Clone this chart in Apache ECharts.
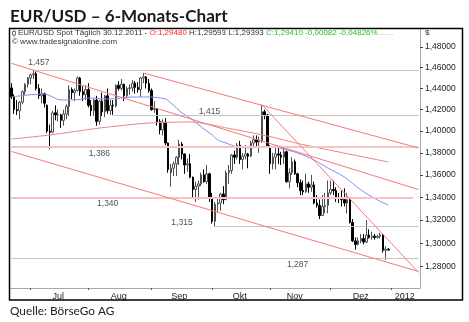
<!DOCTYPE html>
<html><head><meta charset="utf-8">
<script src="https://cdn.jsdelivr.net/npm/echarts@6/dist/echarts.min.js"></script>
<style>html,body{margin:0;padding:0;background:#fff;}#c{width:469px;height:322px;}</style>
</head><body><div id="c"></div>
<script>
// ---------- DATA ----------
const tradingDays = {
  '2011-06': [22,23,24,27,28,29,30],
  '2011-07': [1,4,5,6,7,8,11,12,13,14,15,18,19,20,21,22,25,26,27,28,29],
  '2011-08': [1,2,3,4,5,8,9,10,11,12,15,16,17,18,19,22,23,24,25,26,29,30,31],
  '2011-09': [1,2,5,6,7,8,9,12,13,14,15,16,19,20,21,22,23,26,27,28,29,30],
  '2011-10': [3,4,5,6,7,10,11,12,13,14,17,18,19,20,21,24,25,26,27,28,31],
  '2011-11': [1,2,3,4,7,8,9,10,11,14,15,16,17,18,21,22,23,24,25,28,29,30],
  '2011-12': [1,2,5,6,7,8,9,12,13,14,15,16,19,20,21,22,23,26,27,28,29,30],
  '2012-01': [2,3,4,5,6,9,10,11,12,13,16]
};
// [open, high, low, close]
const ohlcJun = [
[1.4405,1.4450,1.4300,1.4320],[1.4320,1.4345,1.4160,1.4200],[1.4200,1.4290,1.4150,1.4190],
[1.4190,1.4280,1.4110,1.4270],[1.4270,1.4380,1.4250,1.4370],[1.4370,1.4450,1.4340,1.4440],
[1.4440,1.4510,1.4410,1.4500]];
const ohlcJul = [
[1.4500,1.4540,1.4440,1.4530],[1.4530,1.4578,1.4490,1.4540],[1.4540,1.4560,1.4380,1.4400],
[1.4400,1.4440,1.4300,1.4330],[1.4330,1.4400,1.4260,1.4350],[1.4350,1.4360,1.4220,1.4260],
[1.4240,1.4250,1.3980,1.4000],[1.4000,1.4060,1.3837,1.3990],[1.3990,1.4190,1.3980,1.4170],
[1.4170,1.4240,1.4100,1.4150],[1.4150,1.4200,1.4090,1.4150],[1.4150,1.4160,1.4030,1.4100],
[1.4100,1.4200,1.4050,1.4160],[1.4160,1.4250,1.4110,1.4230],[1.4230,1.4430,1.4140,1.4390],
[1.4390,1.4410,1.4300,1.4360],[1.4360,1.4400,1.4280,1.4380],[1.4380,1.4515,1.4370,1.4500],
[1.4500,1.4510,1.4330,1.4370],[1.4370,1.4420,1.4280,1.4340],[1.4340,1.4430,1.4290,1.4390]];
const ohlcAug = [
[1.4390,1.4450,1.4220,1.4240],[1.4240,1.4290,1.4140,1.4190],[1.4190,1.4300,1.4140,1.4290],
[1.4290,1.4330,1.4050,1.4090],[1.4090,1.4290,1.4060,1.4280],[1.4280,1.4360,1.4140,1.4180],
[1.4180,1.4340,1.4130,1.4330],[1.4330,1.4400,1.4160,1.4190],[1.4190,1.4290,1.4150,1.4240],
[1.4240,1.4290,1.4150,1.4235],[1.4235,1.4440,1.4220,1.4430],[1.4430,1.4470,1.4380,1.4400],
[1.4400,1.4490,1.4380,1.4440],[1.4440,1.4445,1.4280,1.4330],[1.4330,1.4420,1.4310,1.4400],
[1.4400,1.4440,1.4340,1.4405],[1.4405,1.4480,1.4370,1.4450],[1.4450,1.4470,1.4350,1.4410],
[1.4410,1.4460,1.4360,1.4390],[1.4390,1.4510,1.4320,1.4500],[1.4500,1.4548,1.4450,1.4510],
[1.4510,1.4520,1.4400,1.4450],[1.4450,1.4490,1.4360,1.4380]];
const ohlcSep = [
[1.4380,1.4400,1.4190,1.4200],[1.4200,1.4280,1.4170,1.4210],[1.4210,1.4215,1.4050,1.4090],
[1.4090,1.4110,1.3970,1.4010],[1.4010,1.4110,1.3960,1.4080],[1.4080,1.4120,1.3870,1.3890],
[1.3890,1.3895,1.3620,1.3650],[1.3620,1.3700,1.3495,1.3660],[1.3660,1.3720,1.3590,1.3700],
[1.3700,1.3770,1.3590,1.3760],[1.3760,1.3920,1.3690,1.3880],[1.3880,1.3900,1.3740,1.3790],
[1.3790,1.3795,1.3610,1.3690],[1.3690,1.3750,1.3630,1.3700],[1.3700,1.3790,1.3570,1.3580],
[1.3580,1.3585,1.3390,1.3470],[1.3470,1.3540,1.3360,1.3500],[1.3500,1.3550,1.3380,1.3520],
[1.3520,1.3620,1.3500,1.3600],[1.3600,1.3650,1.3530,1.3540],[1.3540,1.3690,1.3520,1.3610],
[1.3610,1.3620,1.3360,1.3390]];
const ohlcOct = [
[1.3390,1.3440,1.3170,1.3190],[1.3190,1.3360,1.3145,1.3340],[1.3340,1.3400,1.3270,1.3350],
[1.3350,1.3440,1.3280,1.3430],[1.3430,1.3500,1.3340,1.3380],[1.3380,1.3640,1.3375,1.3620],
[1.3620,1.3690,1.3520,1.3640],[1.3640,1.3790,1.3610,1.3780],[1.3780,1.3820,1.3700,1.3760],
[1.3760,1.3890,1.3740,1.3870],[1.3870,1.3910,1.3700,1.3740],[1.3740,1.3800,1.3650,1.3770],
[1.3770,1.3870,1.3740,1.3790],[1.3790,1.3800,1.3660,1.3770],[1.3770,1.3910,1.3760,1.3890],
[1.3890,1.3960,1.3860,1.3920],[1.3920,1.3960,1.3860,1.3900],[1.3900,1.3950,1.3800,1.3910],
[1.3910,1.4248,1.3890,1.4180],[1.4180,1.4200,1.4110,1.4150],[1.4150,1.4160,1.3850,1.3860]];
const ohlcNov = [
[1.3860,1.3870,1.3610,1.3700],[1.3700,1.3800,1.3650,1.3760],[1.3760,1.3870,1.3650,1.3790],
[1.3790,1.3850,1.3700,1.3780],[1.3780,1.3810,1.3690,1.3760],[1.3760,1.3850,1.3700,1.3810],
[1.3810,1.3820,1.3530,1.3540],[1.3540,1.3660,1.3480,1.3620],[1.3620,1.3760,1.3600,1.3720],
[1.3720,1.3740,1.3600,1.3610],[1.3610,1.3620,1.3490,1.3530],[1.3530,1.3560,1.3420,1.3460],
[1.3460,1.3550,1.3420,1.3450],[1.3450,1.3610,1.3440,1.3520],[1.3520,1.3540,1.3440,1.3490],
[1.3490,1.3600,1.3450,1.3510],[1.3510,1.3540,1.3340,1.3350],[1.3350,1.3420,1.3310,1.3330],
[1.3330,1.3380,1.3210,1.3240],[1.3240,1.3420,1.3240,1.3320],[1.3320,1.3440,1.3260,1.3330],
[1.3330,1.3550,1.3260,1.3440]];
const ohlcDec = [
[1.3440,1.3550,1.3420,1.3470],[1.3470,1.3550,1.3420,1.3460],[1.3460,1.3490,1.3360,1.3400],
[1.3400,1.3440,1.3350,1.3390],[1.3390,1.3460,1.3320,1.3380],[1.3380,1.3480,1.3320,1.3350],
[1.3350,1.3440,1.3260,1.3380],[1.3380,1.3390,1.3170,1.3180],[1.3180,1.3210,1.3010,1.3020],
[1.3020,1.3050,1.2945,1.2990],[1.2990,1.3050,1.2980,1.3020],[1.3020,1.3080,1.3000,1.3040],
[1.3040,1.3080,1.2990,1.3010],[1.3010,1.3200,1.3000,1.3070],[1.3070,1.3120,1.3040,1.3050],
[1.3050,1.3100,1.3030,1.3060],[1.3060,1.3080,1.3030,1.3050],[1.3050,1.3070,1.3040,1.3060],
[1.3060,1.3090,1.3040,1.3070],[1.3070,1.3080,1.2920,1.2940],[1.2940,1.2975,1.2858,1.2950],
[1.29480,1.29593,1.29393,1.29410]];

// moving averages: [date, value]
const maBlue = [['2011-06-22',1.4319],['2011-06-30',1.4338],['2011-07-08',1.4347],['2011-07-18',1.4291],
['2011-07-25',1.4291],['2011-08-01',1.4310],['2011-08-10',1.4300],['2011-08-23',1.4319],['2011-08-31',1.4319],
['2011-09-08',1.4300],['2011-09-12',1.4262],['2011-09-14',1.4215],['2011-09-16',1.4169],['2011-09-21',1.4122],
['2011-09-27',1.4038],['2011-10-03',1.3964],['2011-10-05',1.3918],['2011-10-10',1.3890],['2011-10-14',1.3854],
['2011-10-21',1.3845],['2011-10-28',1.3854],['2011-11-04',1.3845],['2011-11-15',1.3799],['2011-11-23',1.3735],
['2011-11-30',1.3663],['2011-12-08',1.3582],['2011-12-16',1.3466],['2011-12-26',1.3377],['2011-12-30',1.3333]];
const maRed = [['2011-06-22',1.3927],['2011-07-12',1.3964],['2011-08-05',1.4028],['2011-08-31',1.4075],
['2011-09-21',1.4084],['2011-10-11',1.4025],['2011-10-31',1.3955],['2011-11-16',1.3881],['2011-12-06',1.3808],
['2011-12-30',1.3717]];

// trend lines: [[date, value], [date, value]]
const trendLines = [
  [['2011-06-22',1.4641],['2012-01-16',1.3469]],
  [['2011-06-22',1.3813],['2012-01-16',1.2759]],
  [['2011-08-29',1.4548],['2012-01-16',1.3844]],
  [['2011-10-27',1.4248],['2012-01-16',1.2751]]
];
// horizontal levels
const levelValues = [1.457, 1.415, 1.386, 1.340, 1.315, 1.287];
const levelFrom   = ['2011-07-04','2011-08-12','2011-06-22','2011-06-22','2011-10-04','2011-06-22'];
const levelTo     = ['2012-01-16','2012-01-16','2012-01-16','2012-01-12','2012-01-16','2012-01-16'];
const levelKind   = ['gray','gray','pink','pink','gray','gray'];
const levelLabelAt = ['2011-07-06','2011-09-30','2011-08-05','2011-08-10','2011-09-16','2011-11-15'];

const yTicks = [1.28,1.30,1.32,1.34,1.36,1.38,1.40,1.42,1.44,1.46,1.48];
const xLabels = [['2011-07-15','Jul'],['2011-08-16','Aug'],['2011-09-15','Sep'],['2011-10-17','Okt'],
                 ['2011-11-14','Nov'],['2011-12-16','Dez'],['2012-01-09','2012']];

// ---------- BUILD ----------
const pad = d => String(d).padStart(2,'0');
const categories = [];
Object.keys(tradingDays).forEach(m => tradingDays[m].forEach(d => categories.push(m + '-' + pad(d))));
const idx = {}; categories.forEach((c,i) => idx[c] = i);
const monthStarts = new Set(Object.keys(tradingDays).slice(1).map(m => idx[m + '-' + pad(tradingDays[m][0])]));
const labelMap = {}; xLabels.forEach(([d,t]) => labelMap[d] = t);

const ohlc = [].concat(ohlcJun, ohlcJul, ohlcAug, ohlcSep, ohlcOct, ohlcNov, ohlcDec);
const candleData = ohlc.map(([o,h,l,c]) => [o,c,l,h]);

const lvlStyle = {gray:{color:'#c6c6c6', width:1, type:'solid'}, pink:{color:'#f8c2c2', width:2, type:'solid'}};
const lblPlace = [['top',4],['top',-1],['bottom',3],['bottom',2],['top',-1],['bottom',2]];

const markData = [];
levelValues.forEach((v,k) => markData.push([{coord:[idx[levelFrom[k]], v], lineStyle: lvlStyle[levelKind[k]]},{coord:[idx[levelTo[k]], v]}]));
trendLines.forEach(([a,b]) => markData.push([{coord:[idx[a[0]], a[1]], lineStyle:{color:'#f27a7a', width:1, type:'solid'}},{coord:[idx[b[0]], b[1]]}]));

const fmtNum = (v, n) => v.toFixed(n).replace('.', ',');

const chart = echarts.init(document.getElementById('c'));
chart.setOption({
  animation: false,
  backgroundColor: '#fff',
  grid: {left:10, right:49, top:28, bottom:34},
  xAxis: {
    type:'category', data: categories, boundaryGap: true,
    axisLine:{lineStyle:{color:'#a8a8a8'}},
    axisTick:{show:true, alignWithLabel:true, length:2, interval:(i) => monthStarts.has(i), lineStyle:{color:'#555'}},
    axisLabel:{interval:(i,v) => labelMap[v] !== undefined, formatter: v => labelMap[v] || '',
      fontSize:9, color:'#222', margin:4, fontFamily:'Liberation Sans'},
    splitLine:{show:false}
  },
  yAxis: {
    type:'log', logBase:10, position:'right', min:1.2621, max:1.4987,
    axisLine:{show:true, lineStyle:{color:'#a8a8a8'}},
    axisTick:{show:true, length:3, customValues: yTicks, lineStyle:{color:'#444'}},
    axisLabel:{customValues: yTicks, formatter: v => fmtNum(v,5), fontSize:8.5, color:'#222', margin:5, fontFamily:'Liberation Sans'},
    splitLine:{show:false}
  },
  series: [
    {type:'line', name:'lines', data:[], z:1, silent:true,
     markLine:{silent:true, symbol:['none','none'], label:{show:false}, animation:false,
       lineStyle:{type:'solid'}, emphasis:{disabled:true}, data: markData}},
    {type:'candlestick', name:'EUR/USD', data: candleData, barWidth:2, z:3, silent:true,
     itemStyle:{color:'#ffffff', color0:'#000000', borderColor:'#505050', borderColor0:'#000000', borderWidth:1}},
    {type:'line', name:'MA rot', data: maRed.map(([d,v]) => [idx[d], v]), symbol:'none', smooth:0.3, z:4, silent:true,
     lineStyle:{color:'#f08484', width:1}},
    {type:'line', name:'MA blau', data: maBlue.map(([d,v]) => [idx[d], v]), symbol:'none', smooth:0.3, z:4, silent:true,
     lineStyle:{color:'#8a8af2', width:1}},
    {type:'scatter', name:'levels', symbolSize:0, z:5, silent:true,
     label:{show:true, fontSize:8.5, color:'#222', fontFamily:'Liberation Sans'},
     data: levelValues.map((v,k) => ({value:[idx[levelLabelAt[k]], v],
       label:{position: lblPlace[k][0], distance: lblPlace[k][1], formatter: fmtNum(v,3)}}))}
  ],
  graphic: [
    {type:'rect', shape:{x:9.5, y:28.5, width:453, height:271.5}, style:{fill:'none', stroke:'#000', lineWidth:1.5}, z:10, silent:true},
    {type:'line', shape:{x1:14, y1:29.5, x2:14, y2:37}, style:{stroke:'#777', lineWidth:1}, z:10},
    {type:'rect', shape:{x:12.5, y:31.5, width:3, height:3.5}, style:{fill:'#fff', stroke:'#777', lineWidth:1}, z:10},
    {type:'text', x:18, y:33, z:10, style:{
      text:'{a|EUR/USD Spot Täglich 30.12.2011 - }{r|O:1,29480 }{a|H:1,29593 L:1,29393 }{g|C:1,29410 -0,00082 -0,04826%}{d|.......}',
      verticalAlign:'middle', font:'8px "Liberation Sans"',
      rich:{a:{fill:'#333', font:'8px "Liberation Sans"'}, r:{fill:'#ff2020', font:'8px "Liberation Sans"'},
            g:{fill:'#22c022', font:'8px "Liberation Sans"'}, d:{fill:'#999', font:'8px "Liberation Sans"'}}}},
    {type:'text', x:12, y:42, z:10, style:{text:'© www.tradesignalonline.com', fill:'#333', font:'8px "Liberation Sans"', verticalAlign:'middle'}},
    {type:'text', x:425, y:33, z:10, style:{text:'$', fill:'#333', font:'8px "Liberation Sans"', verticalAlign:'middle'}},
    {type:'text', x:10, y:16, z:10, style:{text:'EUR/USD – 6-Monats-Chart', fill:'#1a1a1a', font:'bold 17.1px Lato', verticalAlign:'middle'}},
    {type:'text', x:10, y:311, z:10, style:{text:'Quelle: BörseGo AG', fill:'#222', font:'11.8px Lato', verticalAlign:'middle'}}
  ]
});
</script>
</body></html>
